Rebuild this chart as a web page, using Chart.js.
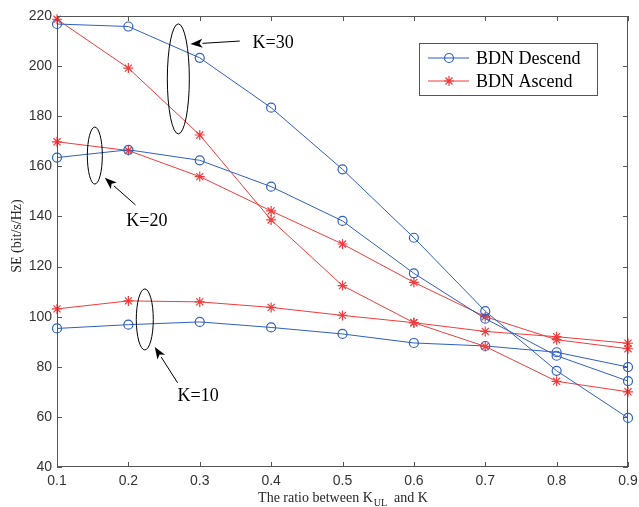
<!DOCTYPE html>
<html>
<head>
<meta charset="utf-8">
<script src="https://cdn.jsdelivr.net/npm/chart.js@4/dist/chart.umd.min.js"></script>
<style>
  html, body { margin: 0; padding: 0; background: #fff; }
  #wrap { width: 639px; height: 507px; }
</style>
</head>
<body>
<div id="wrap"><canvas id="myChart" width="639" height="507"></canvas></div>
<script>
// values
const ratio = [0.1, 0.2, 0.3, 0.4, 0.5, 0.6, 0.7, 0.8, 0.9]
const xTicks = [0.1, 0.2, 0.3, 0.4, 0.5, 0.6, 0.7, 0.8, 0.9]
const yTicks = [40, 60, 80, 100, 120, 140, 160, 180, 200, 220]

const descK30 = [216.8, 215.8, 203.3, 183.4, 158.8, 131.5, 102.2, 78.4, 59.6]
const ascK30 = [218.7, 199.2, 172.5, 138.6, 112.4, 97.6, 88.1, 74.2, 70.0]
const descK20 = [163.5, 166.6, 162.4, 151.9, 138.2, 117.3, 99.2, 84.4, 74.3]
const ascK20 = [169.8, 166.3, 155.9, 142.2, 129.0, 113.7, 100.0, 90.8, 87.2]
const descK10 = [95.3, 96.8, 97.9, 95.7, 93.1, 89.5, 88.3, 85.8, 79.9]
const ascK10 = [103.1, 106.3, 105.9, 103.7, 100.5, 97.6, 94.1, 92.0, 89.4]

const blue = '#2f5fc0'
const red = '#f03c3c'
const serif = '"Liberation Serif", "Times New Roman", serif'
const sans = '"Liberation Sans", Helvetica, Arial, sans-serif'

// ellipse + arrow callouts (data coords for anchors)
const callouts = [
	{ text: 'K=30', cx: 0.270, cy: 194.9, rx: 11, ry: 55, from: [0.356, 210.0], to: [0.287, 208.8], tx: 0.374, ty: 209.2 },
	{ text: 'K=20', cx: 0.153, cy: 164.3, rx: 7.5, ry: 28.5, from: [0.210, 144.6], to: [0.167, 155.4], tx: 0.197, ty: 138.2 },
	{ text: 'K=10', cx: 0.223, cy: 98.9, rx: 8.5, ry: 30.5, from: [0.269, 73.6], to: [0.237, 87.9], tx: 0.269, ty: 68.4 }
]

function pts(vals) {
	return ratio.map((r, i) => ({ x: r, y: vals[i] }))
}

function series(label, vals, color, style) {
	return {
		label: label,
		data: pts(vals),
		borderColor: color,
		backgroundColor: 'rgba(0,0,0,0)',
		borderWidth: 1,
		pointStyle: style,
		pointRadius: style === 'star' ? 5 : 4.5,
		pointBorderColor: color,
		pointBorderWidth: 1.2,
		pointBackgroundColor: 'rgba(0,0,0,0)',
		tension: 0,
		clip: false
	}
}

function drawMarker(ctx, style, x, y, color) {
	ctx.save()
	ctx.strokeStyle = color
	ctx.lineWidth = 1.2
	ctx.beginPath()
	if (style === 'circle') {
		ctx.arc(x, y, 4.5, 0, Math.PI * 2)
	} else {
		const r = 5
		const d = r * Math.SQRT1_2
		ctx.moveTo(x - r, y); ctx.lineTo(x + r, y)
		ctx.moveTo(x, y - r); ctx.lineTo(x, y + r)
		ctx.moveTo(x - d, y - d); ctx.lineTo(x + d, y + d)
		ctx.moveTo(x - d, y + d); ctx.lineTo(x + d, y - d)
	}
	ctx.stroke()
	ctx.restore()
}

const matlabLook = {
	id: 'matlabLook',
	afterDatasetsDraw(chart) {
		const ctx = chart.ctx
		const a = chart.chartArea
		const xs = chart.scales.x
		const ys = chart.scales.y

		// box + inward ticks
		ctx.save()
		ctx.strokeStyle = '#555'
		ctx.lineWidth = 1
		ctx.strokeRect(a.left + 0.5, a.top + 0.5, a.right - a.left - 1, a.bottom - a.top - 1)
		ctx.beginPath()
		xTicks.forEach(v => {
			const px = Math.round(xs.getPixelForValue(v)) + 0.5
			ctx.moveTo(px, a.bottom); ctx.lineTo(px, a.bottom - 5)
			ctx.moveTo(px, a.top); ctx.lineTo(px, a.top + 5)
		})
		yTicks.forEach(v => {
			const py = Math.round(ys.getPixelForValue(v)) + 0.5
			ctx.moveTo(a.left, py); ctx.lineTo(a.left + 5, py)
			ctx.moveTo(a.right, py); ctx.lineTo(a.right - 5, py)
		})
		ctx.stroke()
		ctx.restore()

		// axis titles
		ctx.save()
		ctx.fillStyle = '#262626'
		ctx.font = '14px ' + serif
		ctx.textBaseline = 'middle'
		ctx.textAlign = 'center'
		ctx.translate(17, 236)
		ctx.rotate(-Math.PI / 2)
		ctx.fillText('SE (bit/s/Hz)', 0, 0)
		ctx.restore()

		ctx.save()
		ctx.fillStyle = '#262626'
		ctx.textBaseline = 'alphabetic'
		ctx.textAlign = 'left'
		const p1 = 'The ratio between K'
		const sub = 'UL'
		const p2 = '  and K'
		ctx.font = '14px ' + serif
		const w1 = ctx.measureText(p1).width
		const w3 = ctx.measureText(p2).width
		ctx.font = '10px ' + serif
		const w2 = ctx.measureText(sub).width
		let x0 = (a.left + a.right) / 2 - (w1 + w2 + w3) / 2
		const base = 502
		ctx.font = '14px ' + serif
		ctx.fillText(p1, x0, base)
		ctx.font = '10px ' + serif
		ctx.fillText(sub, x0 + w1 + 1, base + 4)
		ctx.font = '14px ' + serif
		ctx.fillText(p2, x0 + w1 + w2 + 1, base)
		ctx.restore()

		// callouts
		ctx.save()
		ctx.strokeStyle = '#000'
		ctx.fillStyle = '#000'
		ctx.lineWidth = 1
		callouts.forEach(c => {
			const cx = xs.getPixelForValue(c.cx)
			const cy = ys.getPixelForValue(c.cy)
			ctx.beginPath()
			ctx.ellipse(cx, cy, c.rx, c.ry, 0, 0, Math.PI * 2)
			ctx.stroke()

			const fx = xs.getPixelForValue(c.from[0])
			const fy = ys.getPixelForValue(c.from[1])
			const tx = xs.getPixelForValue(c.to[0])
			const ty = ys.getPixelForValue(c.to[1])
			const ang = Math.atan2(ty - fy, tx - fx)
			const len = 12, half = 4.5
			const bx = tx - len * Math.cos(ang)
			const by = ty - len * Math.sin(ang)
			ctx.beginPath()
			ctx.moveTo(fx, fy); ctx.lineTo(bx, by)
			ctx.stroke()
			ctx.beginPath()
			ctx.moveTo(tx, ty)
			ctx.lineTo(bx + half * Math.sin(ang), by - half * Math.cos(ang))
			ctx.lineTo(bx + 3 * Math.cos(ang), by + 3 * Math.sin(ang))
			ctx.lineTo(bx - half * Math.sin(ang), by + half * Math.cos(ang))
			ctx.closePath()
			ctx.fill()

			ctx.font = '18px ' + serif
			ctx.textAlign = 'left'
			ctx.textBaseline = 'middle'
			ctx.fillText(c.text, xs.getPixelForValue(c.tx), ys.getPixelForValue(c.ty))
		})
		ctx.restore()

		// legend
		ctx.save()
		ctx.fillStyle = '#fff'
		ctx.fillRect(419, 43, 178, 52)
		ctx.strokeStyle = '#555'
		ctx.lineWidth = 1
		ctx.strokeRect(419.5, 43.5, 178, 52)
		const entries = [
			{ label: 'BDN Descend', color: blue, style: 'circle', y: 58 },
			{ label: 'BDN Ascend', color: red, style: 'star', y: 81 }
		]
		entries.forEach(e => {
			ctx.strokeStyle = e.color
			ctx.lineWidth = 1
			ctx.beginPath()
			ctx.moveTo(428, e.y); ctx.lineTo(469, e.y)
			ctx.stroke()
			drawMarker(ctx, e.style, 449, e.y, e.color)
			ctx.fillStyle = '#000'
			ctx.font = '18px ' + serif
			ctx.textAlign = 'left'
			ctx.textBaseline = 'middle'
			ctx.fillText(e.label, 476, e.y + 1)
		})
		ctx.restore()
	}
}

var ctx = document.getElementById('myChart').getContext('2d')

var myChart = new Chart(ctx, {
	type: 'line',
	data: {
		datasets: [
			series('BDN Descend', descK30, blue, 'circle'),
			series('BDN Ascend', ascK30, red, 'star'),
			series('BDN Descend', descK20, blue, 'circle'),
			series('BDN Ascend', ascK20, red, 'star'),
			series('BDN Descend', descK10, blue, 'circle'),
			series('BDN Ascend', ascK10, red, 'star')
		]
	},
	options: {
		responsive: false,
		animation: false,
		layout: { padding: { top: 16, right: 11, left: 0, bottom: 0 } },
		plugins: {
			legend: { display: false },
			tooltip: { enabled: false }
		},
		scales: {
			x: {
				type: 'linear',
				min: 0.1,
				max: 0.9,
				grid: { display: false, drawTicks: false },
				border: { display: false },
				afterFit: s => { s.height = 40; s.paddingLeft = 0; s.paddingRight = 0 },
				afterBuildTicks: s => { s.ticks = xTicks.map(v => ({ value: v })) },
				ticks: {
					padding: 6,
					color: '#333',
					font: { family: sans, size: 14 },
					maxRotation: 0,
					callback: v => v.toFixed(1)
				}
			},
			y: {
				min: 40,
				max: 220,
				grid: { display: false, drawTicks: false },
				border: { display: false },
				afterFit: s => { s.width = 57; s.paddingTop = 0; s.paddingBottom = 0 },
				afterBuildTicks: s => { s.ticks = yTicks.map(v => ({ value: v })) },
				ticks: {
					padding: 5,
					color: '#333',
					font: { family: sans, size: 14 }
				}
			}
		}
	},
	plugins: [matlabLook]
})

myChart.update()
</script>
</body>
</html>
